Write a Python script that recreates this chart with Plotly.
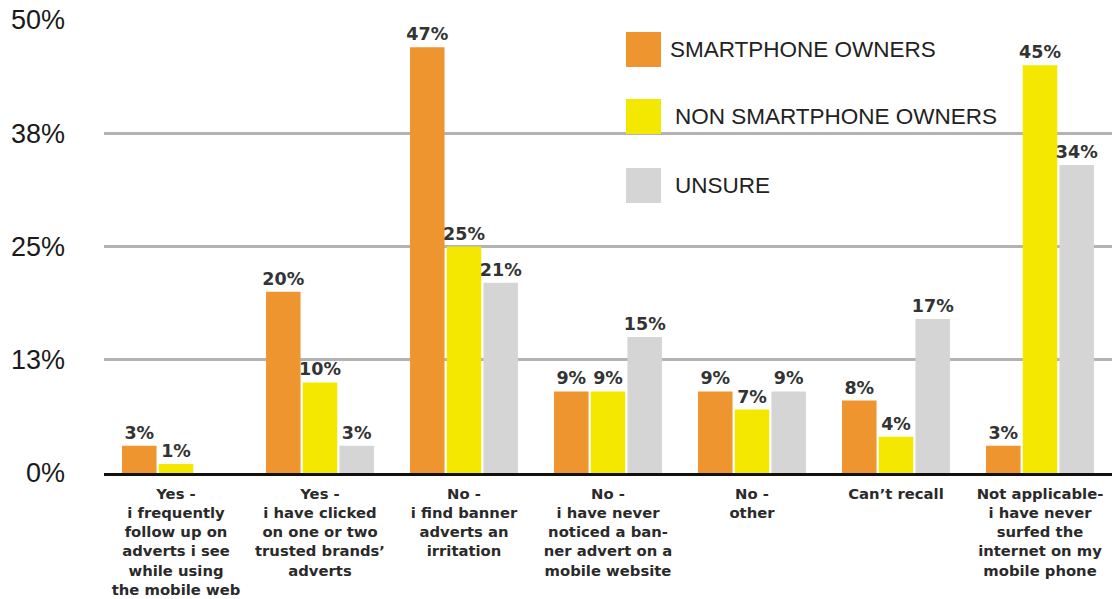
import plotly.graph_objects as go

# Survey answers (x categories), one bar per respondent group
categories = [
    "Yes -<br>i frequently<br>follow up on<br>adverts i see<br>while using<br>the mobile web",
    "Yes -<br>i have clicked<br>on one or two<br>trusted brands’<br>adverts",
    "No -<br>i find banner<br>adverts an<br>irritation",
    "No -<br>i have never<br>noticed a ban-<br>ner advert on a<br>mobile website",
    "No -<br>other",
    "Can’t recall",
    "Not applicable-<br>i have never<br>surfed the<br>internet on my<br>mobile phone",
]

series_names = ["SMARTPHONE OWNERS", "NON SMARTPHONE OWNERS", "UNSURE"]
smartphone_owners = [3, 20, 47, 9, 9, 8, 3]
non_smartphone_owners = [1, 10, 25, 9, 7, 4, 45]
unsure = [None, 3, 21, 15, 9, 17, 34]
series_values = [smartphone_owners, non_smartphone_owners, unsure]
series_colors = ["#EE9530", "#F4E800", "#D5D5D5"]

y_tick_values = [0, 12.5, 25, 37.5, 50]
y_tick_labels = ["0%", "13%", "25%", "38%", "50%"]

SANS = "Liberation Sans, Arial, Helvetica, sans-serif"
WIDE = "DejaVu Sans, Verdana, sans-serif"

fig = go.Figure()
for name, vals, color in zip(series_names, series_values, series_colors):
    fig.add_trace(go.Bar(
        x=list(range(len(categories))),
        y=vals,
        name=name,
        marker=dict(color=color, line=dict(width=0)),
        text=["" if v is None else f"{v}%" for v in vals],
        textposition="outside",
        constraintext="none",
        textfont=dict(family=WIDE, size=17.5, color="#333333", weight="bold"),
        cliponaxis=False,
        showlegend=False,
    ))

# Figure geometry in pixels, used to place the hand-drawn legend
W, H = 1115, 599
ML, MR, MT, MB = 104, 3, 20, 126
PW, PH = W - ML - MR, H - MT - MB


def px_x(px):
    return (px - ML) / PW


def px_y(py):
    return (H - MB - py) / PH


legend_rows = [(32, 668), (99, 673), (168, 673)]
for (top, text_x), name, color in zip(legend_rows, series_names, series_colors):
    fig.add_shape(
        type="rect", xref="paper", yref="paper",
        x0=px_x(626), x1=px_x(661), y0=px_y(top + 35), y1=px_y(top),
        fillcolor=color, line=dict(width=0),
    )
    fig.add_annotation(
        xref="paper", yref="paper", x=px_x(text_x), y=px_y(top + 17.5),
        xanchor="left", yanchor="middle", showarrow=False, text=name,
        font=dict(family=SANS, size=22.5, color="#222222"),
    )

fig.update_layout(
    width=W, height=H,
    margin=dict(l=ML, r=MR, t=MT, b=MB, autoexpand=False),
    paper_bgcolor="white", plot_bgcolor="white",
    barmode="group", bargap=0.235, bargroupgap=0.06,
    font=dict(family=SANS),
)

fig.update_xaxes(
    tickmode="array",
    tickvals=list(range(len(categories))),
    ticktext=categories,
    range=[-0.5, len(categories) - 0.5],
    tickangle=0,
    ticks="",
    showgrid=False,
    showline=True, linecolor="#111111", linewidth=3,
    tickfont=dict(family=WIDE, size=14.8, color="#2a2a2a", weight="bold"),
    ticklabelstandoff=5,
)

fig.update_yaxes(
    range=[0, 50],
    tickmode="array",
    tickvals=y_tick_values,
    ticktext=y_tick_labels,
    showgrid=True, gridcolor="#b3b3b3", gridwidth=2.5,
    zeroline=False,
    showline=False,
    ticks="",
    tickfont=dict(family=SANS, size=27, color="#1a1a1a", weight=300),
    ticklabelstandoff=38,
)

fig.write_html("out.html")
